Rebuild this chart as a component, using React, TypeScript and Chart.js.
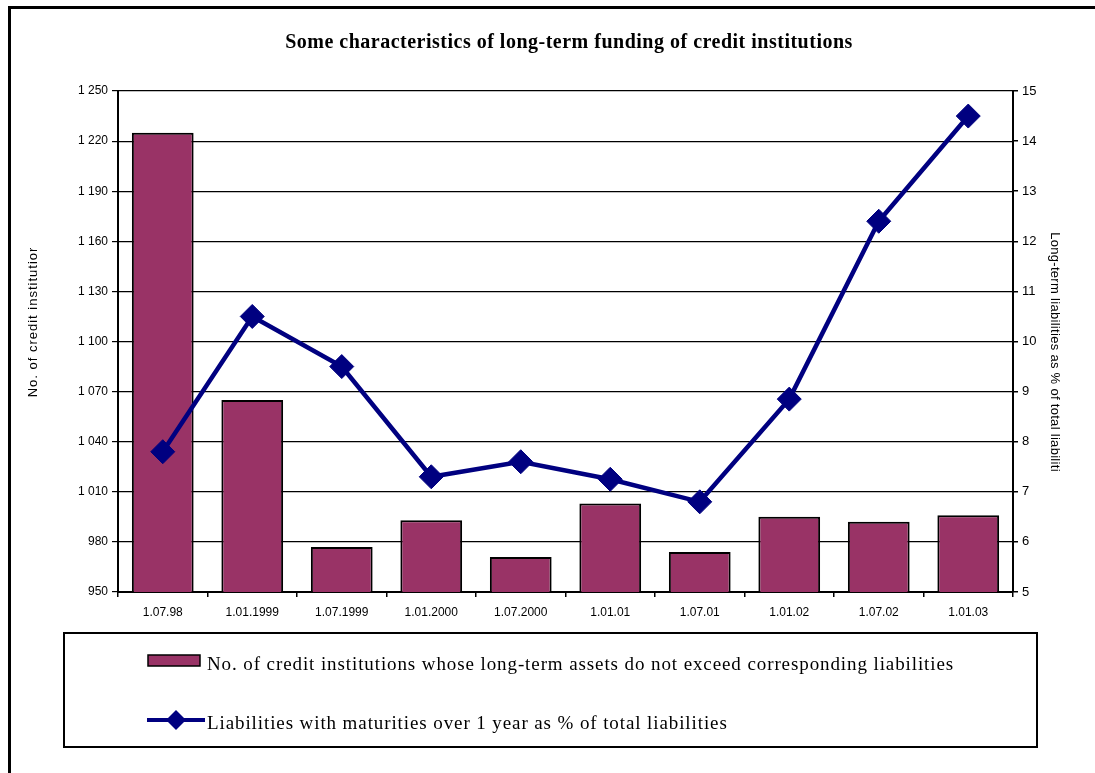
import React, { useEffect, useRef } from "react";
import { Chart, registerables } from "chart.js";

Chart.register(...registerables);

const categories = [
  "1.07.98",
  "1.01.1999",
  "1.07.1999",
  "1.01.2000",
  "1.07.2000",
  "1.01.01",
  "1.07.01",
  "1.01.02",
  "1.07.02",
  "1.01.03",
];
const institutionsCount = [1225, 1065, 977, 993, 971, 1003, 974, 995, 992, 996];
const longTermShare = [7.8, 10.5, 9.5, 7.3, 7.6, 7.25, 6.8, 8.85, 12.4, 14.5];
const leftTicks = [950, 980, 1010, 1040, 1070, 1100, 1130, 1160, 1190, 1220, 1250];
const rightTicks = [5, 6, 7, 8, 9, 10, 11, 12, 13, 14, 15];

const chartTitle = "Some characteristics of long-term funding of credit institutions";
const leftAxisTitle = "No. of credit institutior";
const rightAxisTitle = "Long-term liabilities as % of total liabiliti";
const barLabel =
  "No. of credit institutions whose long-term assets do not exceed corresponding liabilities";
const lineLabel = "Liabilities with maturities over 1 year as % of total liabilities";

const BAR_COLOR = "#993366";
const LINE_COLOR = "#000080";
const SANS = "'Liberation Sans', Arial, sans-serif";
const SERIF = "'Liberation Serif', 'Times New Roman', serif";

const fmtThousands = (v: number) => {
  const s = String(Math.round(v));
  return s.length > 3 ? s.slice(0, s.length - 3) + " " + s.slice(-3) : s;
};

const decorPlugin = {
  id: "decor",
  afterDraw(chart: any) {
    const ctx = chart.ctx as any;
    ctx.save();
    // outer frame
    ctx.strokeStyle = "#000";
    ctx.lineWidth = 3;
    ctx.beginPath();
    ctx.moveTo(9.5, 800);
    ctx.lineTo(9.5, 7.5);
    ctx.lineTo(1200, 7.5);
    ctx.stroke();

    // title
    ctx.fillStyle = "#000";
    ctx.font = `bold 20px ${SERIF}`;
    ctx.letterSpacing = "0.5px";
    ctx.textAlign = "center";
    ctx.textBaseline = "middle";
    ctx.fillText(chartTitle, 569, 43);

    // axis titles
    ctx.font = `13px ${SANS}`;
    ctx.letterSpacing = "1px";
    ctx.save();
    ctx.translate(33, 322);
    ctx.rotate(-Math.PI / 2);
    ctx.fillText(leftAxisTitle, 0, 0);
    ctx.restore();
    ctx.letterSpacing = "0.3px";
    ctx.save();
    ctx.translate(1055, 352);
    ctx.rotate(Math.PI / 2);
    ctx.fillText(rightAxisTitle, 0, 0);
    ctx.restore();
    ctx.letterSpacing = "0px";

    // legend box
    ctx.lineWidth = 2;
    ctx.strokeStyle = "#000";
    ctx.strokeRect(64, 633, 973, 114);

    const ds = chart.data.datasets;
    const barDs = ds.find((d: any) => d.type !== "line");
    const lineDs = ds.find((d: any) => d.type === "line");

    // bar entry
    ctx.fillStyle = barDs.backgroundColor;
    ctx.fillRect(148, 655, 52, 11);
    ctx.lineWidth = 1.5;
    ctx.strokeRect(148, 655, 52, 11);
    ctx.fillStyle = "#000";
    ctx.font = `19px ${SERIF}`;
    ctx.letterSpacing = "0.9px";
    ctx.textAlign = "left";
    ctx.textBaseline = "middle";
    ctx.fillText(barDs.label, 207, 665);

    // line entry
    ctx.strokeStyle = lineDs.borderColor;
    ctx.lineWidth = 4;
    ctx.beginPath();
    ctx.moveTo(147, 720);
    ctx.lineTo(205, 720);
    ctx.stroke();
    ctx.fillStyle = lineDs.borderColor;
    ctx.beginPath();
    ctx.moveTo(176, 710);
    ctx.lineTo(186, 720);
    ctx.lineTo(176, 730);
    ctx.lineTo(166, 720);
    ctx.closePath();
    ctx.fill();
    ctx.fillStyle = "#000";
    ctx.fillText(lineDs.label, 207, 724);
    ctx.letterSpacing = "0px";

    ctx.restore();
  },
};

export default function App() {
  const canvasRef = useRef<HTMLCanvasElement | null>(null);

  useEffect(() => {
    const canvas = canvasRef.current;
    if (!canvas) return;
    const chart = new Chart(canvas, {
      type: "bar",
      data: {
        labels: categories,
        datasets: [
          {
            type: "line",
            label: lineLabel,
            data: longTermShare,
            yAxisID: "yR",
            borderColor: LINE_COLOR,
            backgroundColor: LINE_COLOR,
            borderWidth: 4.5,
            pointStyle: "rectRot",
            pointRadius: 12,
            pointBackgroundColor: LINE_COLOR,
            pointBorderColor: LINE_COLOR,
            pointBorderWidth: 1,
            tension: 0,
            order: 0,
          } as any,
          {
            type: "bar",
            label: barLabel,
            data: institutionsCount,
            yAxisID: "yL",
            backgroundColor: BAR_COLOR,
            borderColor: "#000",
            borderWidth: 2,
            categoryPercentage: 1,
            barPercentage: 0.69,
            order: 1,
          } as any,
        ],
      },
      options: {
        responsive: false,
        animation: false,
        layout: { padding: { top: 91, left: 0, right: 0, bottom: 141 } },
        plugins: {
          legend: { display: false },
          title: { display: false },
          tooltip: { enabled: false },
        },
        scales: {
          x: {
            type: "category",
            offset: true,
            grid: {
              offset: true,
              drawOnChartArea: false,
              drawTicks: true,
              tickLength: 5,
              color: "#000",
              lineWidth: 1.5,
            },
            border: { display: true, color: "#000", width: 2 },
            ticks: {
              color: "#000",
              font: { family: SANS, size: 12 },
              padding: 8,
              maxRotation: 0,
              autoSkip: false,
            },
            afterFit: (s: any) => {
              s.height = 40;
            },
          },
          yL: {
            type: "linear",
            position: "left",
            min: 950,
            max: 1250,
            afterBuildTicks: (s: any) => {
              s.ticks = leftTicks.map((v) => ({ value: v }));
            },
            grid: {
              color: "#000",
              lineWidth: 1.2,
              drawTicks: true,
              tickLength: 6,
            },
            border: { display: true, color: "#000", width: 2 },
            ticks: {
              color: "#000",
              font: { family: SANS, size: 12 },
              padding: 4,
              callback: (v: any) => fmtThousands(Number(v)),
            },
            afterFit: (s: any) => {
              s.width = 118;
            },
          },
          yR: {
            type: "linear",
            position: "right",
            min: 5,
            max: 15,
            afterBuildTicks: (s: any) => {
              s.ticks = rightTicks.map((v) => ({ value: v }));
            },
            grid: {
              drawOnChartArea: false,
              drawTicks: true,
              tickLength: 5,
              color: "#000",
              lineWidth: 1.5,
            },
            border: { display: true, color: "#000", width: 2 },
            ticks: {
              color: "#000",
              font: { family: SANS, size: 13 },
              padding: 4,
            },
            afterFit: (s: any) => {
              s.width = 82;
            },
          },
        },
      },
      plugins: [decorPlugin],
    });
    return () => chart.destroy();
  }, []);

  return (
    <div
      style={{
        position: "fixed",
        left: 0,
        top: 0,
        width: 1095,
        height: 773,
        background: "#fff",
      }}
    >
      <canvas ref={canvasRef} width={1095} height={773} style={{ display: "block" }} />
    </div>
  );
}
